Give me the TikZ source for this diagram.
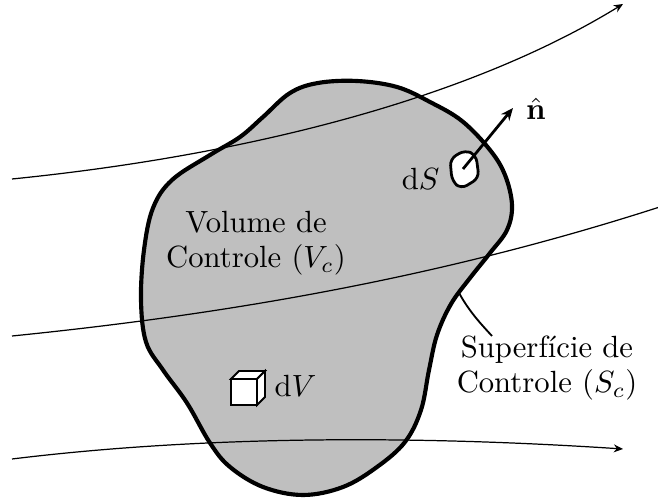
\documentclass[tikz,border=0pt]{standalone}
\usetikzlibrary{arrows.meta}
\begin{document}
\begin{tikzpicture}[x=0.326pt,y=-0.326pt,
  blob/.style={line width=1.35pt},
  stream/.style={line width=0.4pt,-{Stealth[length=3pt,width=2.6pt]}},
  thin/.style={line width=0.6pt},
  lbl/.style={inner sep=0pt,font=\fontsize{10}{11.5}\selectfont}]
\useasboundingbox (0,0) rectangle (658,502);
% control volume
\def\blobpath{plot[smooth cycle,tension=0.6] coordinates {
 (357,81) (397,87) (430,102) (462,121) (490,150) (505,175) (512,205)
 (507,230) (490,253) (470,278) (451,304) (437,335) (429,370) (421,410)
 (405,442) (377,467) (343,487) (303,495) (263,487) (230,467) (210,443)
 (187,403) (163,370) (146,342) (141,300) (144,250) (153,208) (172,180)
 (210,155) (240,137) (263,117) (290,93) (318,83)}}
\fill[black!25] \blobpath;
% streamlines
\coordinate (s1a) at (12,179);
\coordinate (s1b) at (623,4);
\coordinate (s2a) at (12,336);
\coordinate (s2b) at (672,203);
\coordinate (s3a) at (12,459);
\coordinate (s3b) at (623,449);
\draw[stream] (s1a) .. controls (250,155) and (470,98) .. (s1b);
\draw[stream] (s2a) .. controls (250,312) and (460,272) .. (s2b);
\draw[stream] (s3a) .. controls (200,436) and (410,435) .. (s3b);
\draw[blob] \blobpath;
% dS patch and normal
\draw[line width=0.9pt,fill=white,rounded corners=2.2pt]
  (450,159) -- (465,150) -- (476,155) -- (479,178) -- (461,189) -- (452,181) -- cycle;
\coordinate (dSc) at (463,169);
\coordinate (ntip) at (513,108);
\draw[line width=0.9pt,-{Stealth[length=4pt,width=3.4pt]}] (dSc) -- (ntip);
\node[lbl,anchor=base] (n) at (536,120) {$\hat{\mathbf{n}}$};
\node[lbl,anchor=base east] (dS) at (440,190) {d$S$};
% dV cube
\draw[thin,fill=white] (231,379) rectangle (257,405);
\draw[thin,fill=white] (231,379) -- (239,371) -- (265,371) -- (257,379) -- cycle;
\draw[thin,fill=white] (257,379) -- (265,371) -- (265,397) -- (257,405) -- cycle;
\node[lbl,anchor=base west] (dV) at (274,397) {d$V$};
% labels
\node[lbl,align=center] (vc) at (256,243) {Volume de\\Controle ($V_c$)};
\node[lbl,align=center] (sc) at (547,368) {Superfície de\\Controle ($S_c$)};
\coordinate (lead) at (458,291);
\draw[thin] (lead) .. controls (468,310) and (480,323) .. (492,336);
\end{tikzpicture}
\end{document}
